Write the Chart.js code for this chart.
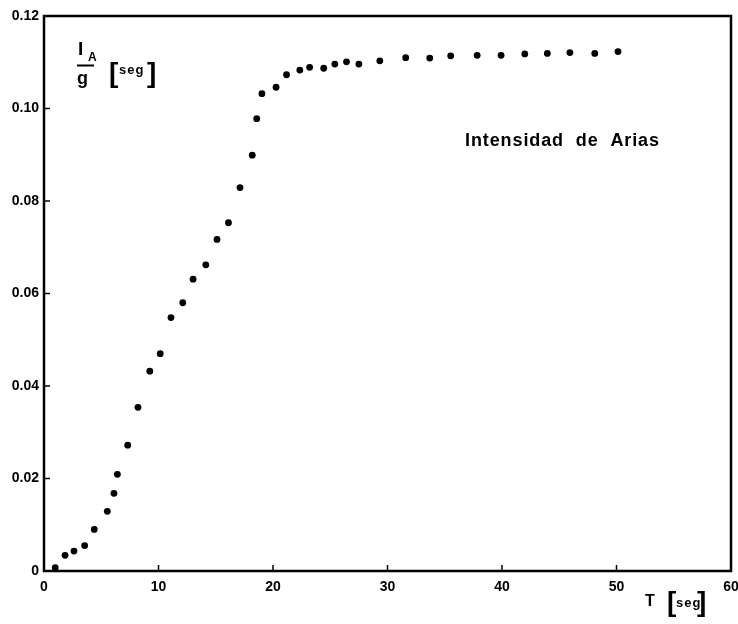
<!DOCTYPE html>
<html>
<head>
<meta charset="utf-8">
<title>Intensidad de Arias</title>
<script src="https://cdn.jsdelivr.net/npm/chart.js@4.4.0/dist/chart.umd.min.js"></script>
<style>
  html, body { margin: 0; padding: 0; background: #fff; }
  canvas { display: block; }
</style>
</head>
<body>
<canvas id="canvasarias" width="738" height="624"></canvas>
<script>
'use strict'

  //////////////////////////////////////
 // Werte     //
//////////////////////////////////////

// T [seg]
const TIME = [
  0.98, 1.84, 2.62, 3.55, 4.39, 5.53, 6.11, 6.41, 7.31, 8.21,
  9.24, 10.15, 11.09, 12.12, 13.02, 14.13, 15.11, 16.11, 17.12, 18.19,
  18.58, 19.03, 20.27, 21.18, 22.34, 23.2, 24.43, 25.4, 26.42, 27.5,
  29.33, 31.59, 33.69, 35.52, 37.83, 39.92, 41.99, 43.96, 45.93, 48.1,
  50.13
];

// I_A / g [seg]
const ARIAS = [
  0.0007, 0.0034, 0.0043, 0.0055, 0.0090, 0.0129, 0.0168, 0.0209, 0.0272, 0.0354,
  0.0432, 0.0470, 0.0548, 0.0580, 0.0631, 0.0662, 0.0717, 0.0753, 0.0829, 0.0899,
  0.0978, 0.1032, 0.1046, 0.1073, 0.1083, 0.1089, 0.1087, 0.1096, 0.1101, 0.1096,
  0.1103, 0.1110, 0.1109, 0.1114, 0.1115, 0.1115, 0.1118, 0.1119, 0.1121, 0.1119,
  0.1123
];

const X_TICKS = [0, 10, 20, 30, 40, 50, 60];
const Y_TICKS = [0, 0.02, 0.04, 0.06, 0.08, 0.10, 0.12];

const FONT = '"Liberation Sans", Arial, sans-serif';

  ///////////////////////////////////////////
 // Rahmen, Striche nach innen und Texte  //
///////////////////////////////////////////

const framePlugin = {
  id: 'frame',
  afterDraw: chart => {
    const { ctx, chartArea: a, scales: { x, y } } = chart;
    ctx.save();
    ctx.strokeStyle = '#000';
    ctx.fillStyle = '#000';

    // Rahmen
    ctx.lineWidth = 2.5;
    ctx.strokeRect(a.left, a.top, a.right - a.left, a.bottom - a.top);

    // kleine Striche nach innen
    ctx.lineWidth = 1.5;
    ctx.beginPath();
    x.ticks.forEach(( t, i ) => {
      const px = x.getPixelForTick(i);
      ctx.moveTo(px, a.bottom);
      ctx.lineTo(px, a.bottom - 6);
    });
    y.ticks.forEach(( t, i ) => {
      const py = y.getPixelForTick(i);
      ctx.moveTo(a.left, py);
      ctx.lineTo(a.left + 6, py);
    });
    ctx.stroke();

    // Achsentitel y:  I_A / g  [seg]
    ctx.textBaseline = 'alphabetic';
    ctx.textAlign = 'left';
    ctx.font = 'bold 19px ' + FONT;
    ctx.fillText('I', 78, 55);
    ctx.font = 'bold 12px ' + FONT;
    ctx.fillText('A', 88, 61);
    ctx.lineWidth = 2;
    ctx.beginPath();
    ctx.moveTo(77, 65.5);
    ctx.lineTo(94, 65.5);
    ctx.stroke();
    ctx.font = 'bold 18px ' + FONT;
    ctx.fillText('g', 77, 84);
    ctx.font = 'bold 28px ' + FONT;
    ctx.fillText('[', 109, 82);
    ctx.fillText(']', 147, 82);
    ctx.font = 'bold 13px ' + FONT;
    ctx.letterSpacing = '1px';
    ctx.fillText('seg', 119, 74);

    // Achsentitel x:  T [seg]
    ctx.letterSpacing = '0px';
    ctx.font = 'bold 16px ' + FONT;
    ctx.fillText('T', 645, 606);
    ctx.font = 'bold 28px ' + FONT;
    ctx.fillText('[', 667, 611);
    ctx.fillText(']', 697, 611);
    ctx.font = 'bold 13px ' + FONT;
    ctx.letterSpacing = '1px';
    ctx.fillText('seg', 676, 607);

    // Beschriftung
    ctx.font = 'bold 18px ' + FONT;
    ctx.letterSpacing = '0.9px';
    ctx.fillText('Intensidad  de  Arias', 465, 146);

    ctx.restore();
  }
};

  ////////////////////////////
 // erzeugen des Diagramms //
////////////////////////////

new Chart(
  document.getElementById('canvasarias'),
  {
    type: 'scatter',
    data: {
      datasets: [{
        label: 'Intensidad de Arias',
        data: TIME.map(( t, i ) => ({ x: t, y: ARIAS[i] })),
        backgroundColor: '#000',
        borderColor: '#000',
        borderWidth: 0,
        pointRadius: 3.4,
        pointHoverRadius: 3.4
      }]
    },
    options: {
      responsive: false,
      animation: false,
      layout: { padding: { top: 16, right: 7, left: 0, bottom: 0 } },
      plugins: {
        legend: { display: false },
        tooltip: { enabled: false }
      },
      scales: {
        x: {
          type: 'linear',
          min: X_TICKS[0],
          max: X_TICKS[X_TICKS.length - 1],
          afterBuildTicks: scale => { scale.ticks = X_TICKS.map(v => ({ value: v })); },
          afterFit: scale => {
            scale.height = 53;
            scale.paddingLeft = 0;
            scale.paddingRight = 0;
          },
          grid: { display: false, drawTicks: false },
          border: { display: false },
          ticks: {
            color: '#000',
            padding: 8,
            maxRotation: 0,
            autoSkip: false,
            font: { family: FONT, size: 14, weight: 'bold' },
            callback: v => String(v)
          }
        },
        y: {
          type: 'linear',
          min: Y_TICKS[0],
          max: Y_TICKS[Y_TICKS.length - 1],
          afterBuildTicks: scale => { scale.ticks = Y_TICKS.map(v => ({ value: v })); },
          afterFit: scale => {
            scale.width = 44;
            scale.paddingTop = 0;
            scale.paddingBottom = 0;
          },
          grid: { display: false, drawTicks: false },
          border: { display: false },
          ticks: {
            color: '#000',
            padding: 5,
            autoSkip: false,
            font: { family: FONT, size: 14, weight: 'bold' },
            callback: v => v === 0 ? '0' : v.toFixed(2)
          }
        }
      }
    },
    plugins: [ framePlugin ]
  }
);
</script>
</body>
</html>
